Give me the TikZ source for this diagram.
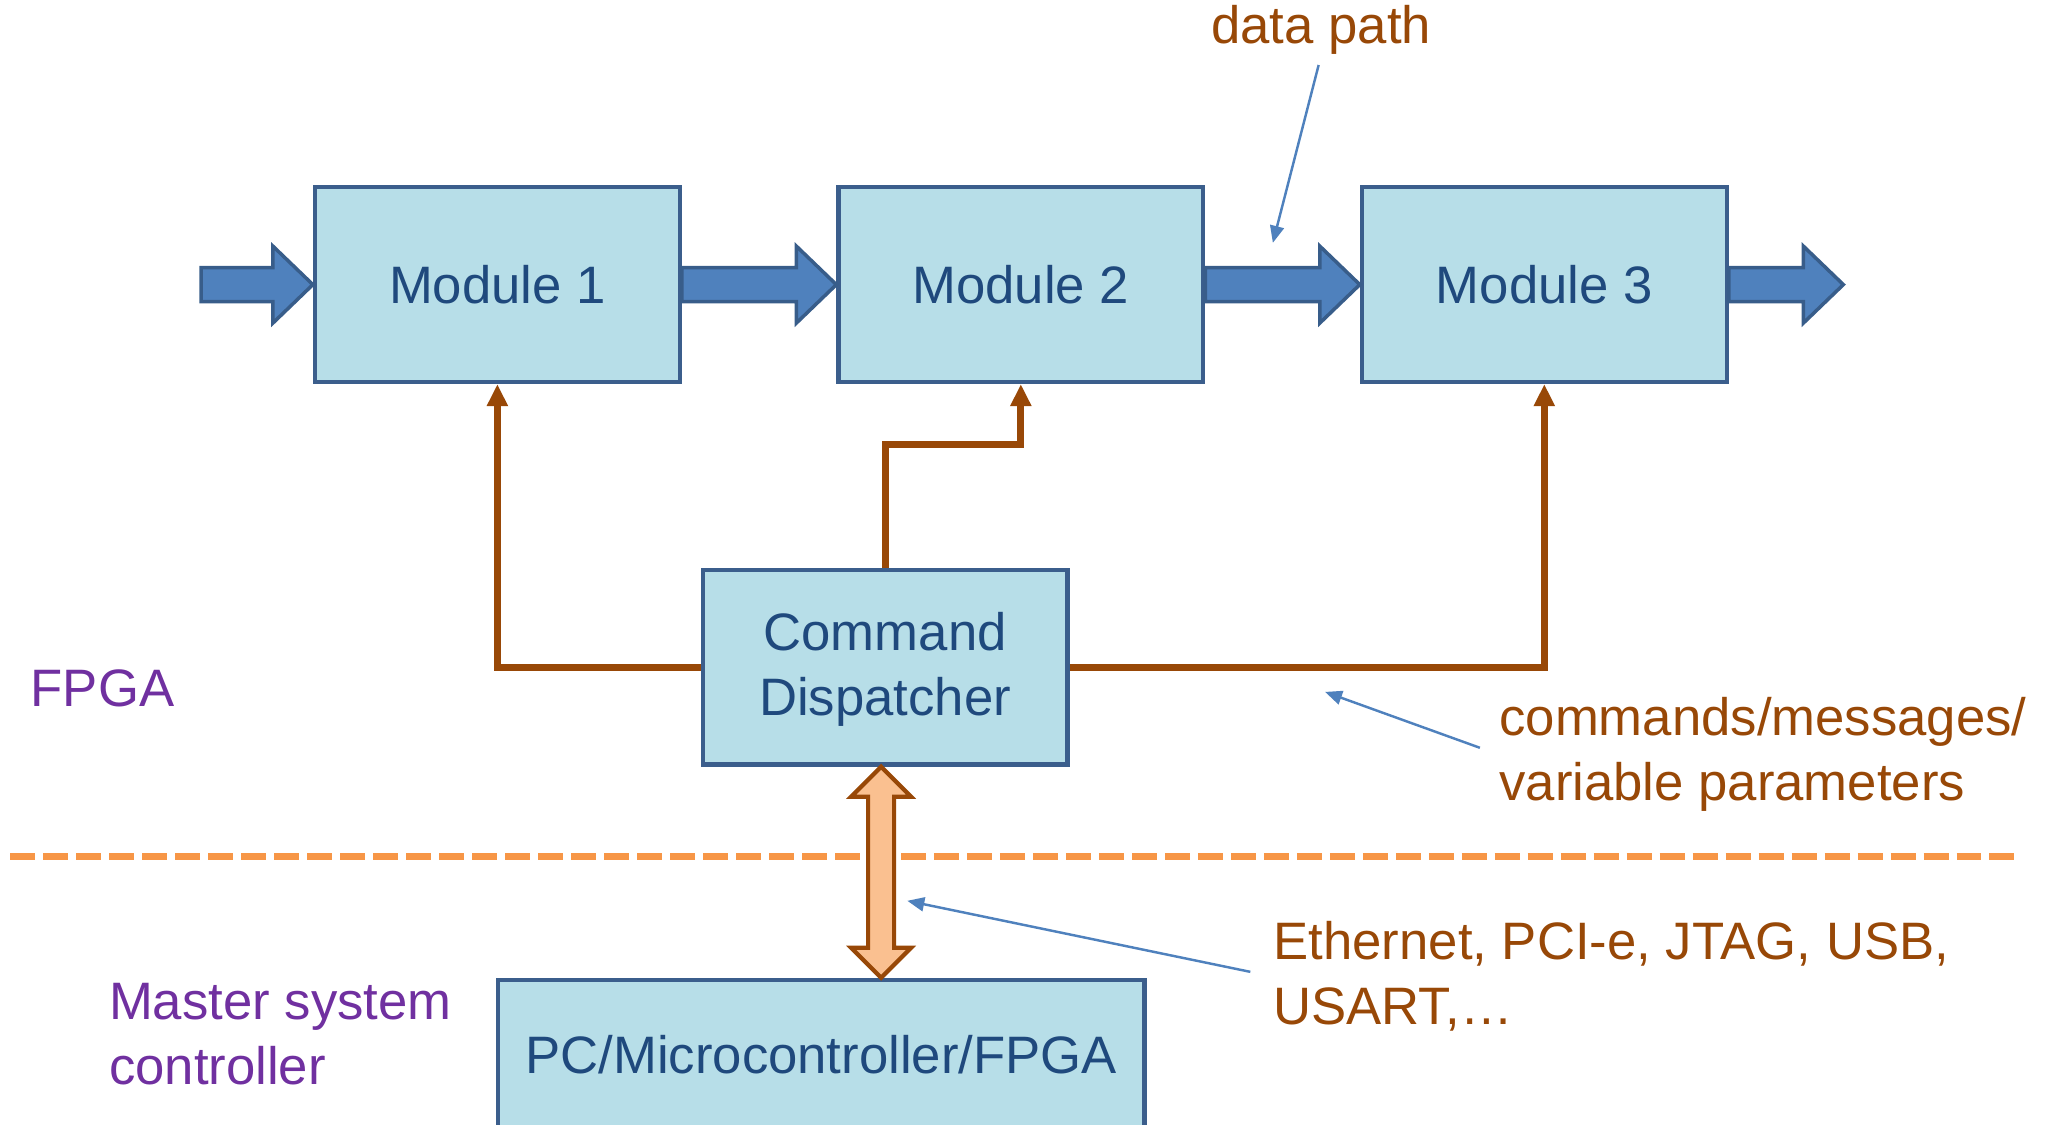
\documentclass[tikz,border=0pt]{standalone}
\usepackage{fontspec}
\setmainfont{Liberation Sans}
\usetikzlibrary{arrows.meta, positioning, calc}
\definecolor{boxfill}{HTML}{B7DEE8}
\definecolor{boxline}{HTML}{3B5E8C}
\definecolor{boxtext}{HTML}{1F497D}
\definecolor{flow}{HTML}{4F81BD}
\definecolor{flowline}{HTML}{385D8A}
\definecolor{ctrl}{HTML}{984807}
\definecolor{bus}{HTML}{FAC090}
\definecolor{border}{HTML}{F79646}
\definecolor{region}{HTML}{7030A0}

\newcommand{\datalink}[2]{%
  \draw[dataarr] ($(#1)+(0,0.17cm)$) -- ($(#2)+(-0.4cm,0.17cm)$) -- ($(#2)+(-0.4cm,0.385cm)$)
    -- (#2) -- ($(#2)+(-0.4cm,-0.385cm)$) -- ($(#2)+(-0.4cm,-0.17cm)$) -- ($(#1)+(0,-0.17cm)$) -- cycle;}

\begin{document}
\begin{tikzpicture}[
      x=0.013055cm, y=-0.013055cm,
      block/.style={rectangle, draw=boxline, fill=boxfill, line width=1.2pt,
                    minimum width=3.65cm, minimum height=1.95cm,
                    text=boxtext, font=\fontsize{15}{18.5}\selectfont, align=center},
      dataarr/.style={draw=flowline, fill=flow, line width=1pt, line join=miter},
      busarr/.style={draw=ctrl, fill=bus, line width=1.2pt, line join=miter},
      cmd/.style={-{Triangle[length=0.22cm,width=0.2cm]}, draw=ctrl, line width=2pt},
      note/.style={-{Triangle[length=0.17cm,width=0.14cm]}, draw=flow, line width=0.7pt},
      lbl/.style={inner sep=0pt, text=ctrl, font=\fontsize{15}{18.5}\selectfont, align=left},
      side/.style={inner sep=0pt, text=region, font=\fontsize{15}{18.5}\selectfont, align=left},
      sep/.style={draw=border, line width=2.2pt, dash pattern=on 0.25cm off 0.08cm}
    ]
    \useasboundingbox (0,0) rectangle (1568,861);

    \node[block] (m1) at (381,218) {Module 1};
    \node[block, right=1.545cm of m1] (m2) {Module 2};
    \node[block, right=1.545cm of m2] (m3) {Module 3};
    \node[block] (disp) at (678,511) {\rule{0pt}{12pt}Command\\Dispatcher};
    \node[block, minimum width=6.47cm, minimum height=1.5cm] (pc) at (629,808) {PC/Microcontroller/FPGA};

    \coordinate (in) at (154,218);
    \coordinate (out) at (1412,218);
    \datalink{in}{m1.west}
    \datalink{m1.east}{m2.west}
    \datalink{m2.east}{m3.west}
    \datalink{m3.east}{out}

    \draw[cmd] (disp.west) -| (m1.south);
    \draw[cmd] (disp.north) |- ($(m2.south)+(0,-0.6cm)$) -- (m2.south);
    \draw[cmd] (disp.east) -| (m3.south);

    \draw[sep] (8,656) -- (1545,656);

    \coordinate (dispbot) at ($(disp.south)+(-0.04cm,0)$);
    \coordinate (pctop) at (dispbot |- pc.north);
    \draw[busarr] (dispbot) -- ($(dispbot)+(0.3cm,-0.3cm)$) -- ($(dispbot)+(0.13cm,-0.3cm)$)
      -- ($(pctop)+(0.13cm,0.3cm)$) -- ($(pctop)+(0.3cm,0.3cm)$) -- (pctop)
      -- ($(pctop)+(-0.3cm,0.3cm)$) -- ($(pctop)+(-0.13cm,0.3cm)$)
      -- ($(dispbot)+(-0.13cm,-0.3cm)$) -- ($(dispbot)+(-0.3cm,-0.3cm)$) -- cycle;

    \node[lbl] (dp) at (1012,23) {data path};
    \coordinate (dptip) at (975,186);
    \draw[note, shorten <=0.1cm] (dp.south) -- (dptip);

    \node[lbl, anchor=west] (cmdtxt) at (1148,578) {commands/messages/\\variable parameters};
    \coordinate (cmdtip) at (1015,530);
    \draw[note, shorten <=0.2cm] (cmdtxt.west) -- (cmdtip);

    \node[lbl, anchor=west] (bustxt) at (975,748) {Ethernet, PCI-e, JTAG, USB,\\USART,\ldots};
    \coordinate (bustip) at (695,690);
    \draw[note, shorten <=0.23cm] (bustxt.west) -- (bustip);

    \node[side, anchor=west] (fpga) at (23,527) {FPGA};
    \node[side, anchor=west] (master) at (83,792) {Master system\\controller};
  \end{tikzpicture}
\end{document}
